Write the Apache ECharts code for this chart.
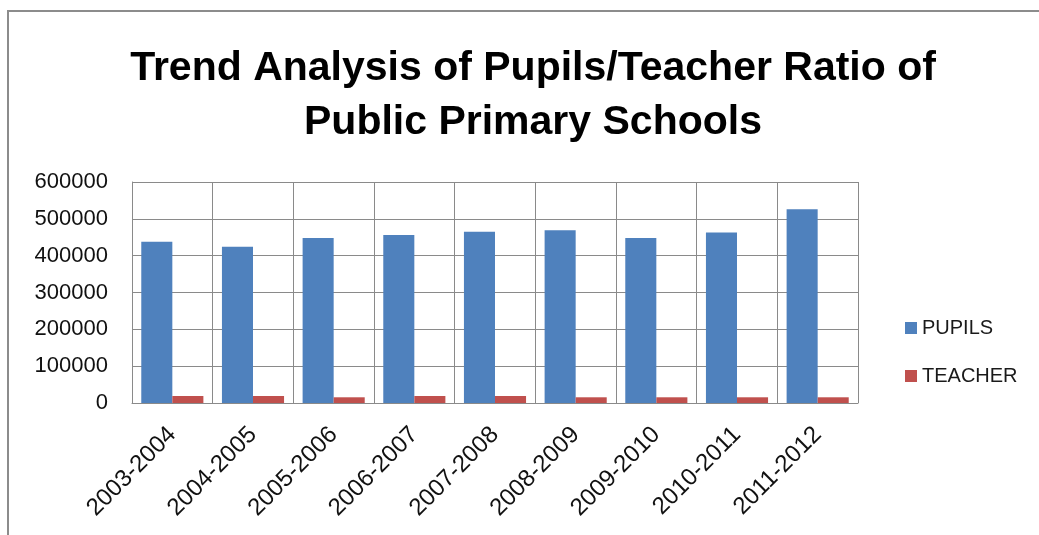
<!DOCTYPE html>
<html>
<head>
<meta charset="utf-8">
<script src="https://cdn.jsdelivr.net/npm/echarts@6/dist/echarts.min.js"></script>
<style>
html,body{margin:0;padding:0;background:#fff;}
#chart{width:1039px;height:535px;}
</style>
</head>
<body>
<div id="chart"></div>
<script>
const titleText = 'Trend Analysis of Pupils/Teacher Ratio of\nPublic Primary Schools';
const categories = ['2003-2004','2004-2005','2005-2006','2006-2007','2007-2008','2008-2009','2009-2010','2010-2011','2011-2012'];
const pupils = [438000, 424000, 448000, 456000, 465000, 469000, 448000, 463000, 526000];
const teacher = [19000, 19000, 15500, 19000, 19000, 15500, 15500, 15500, 15500];
const seriesNames = ['PUPILS', 'TEACHER'];

const chart = echarts.init(document.getElementById('chart'));
const gridColor = '#8a8a8a';
const font = '"Liberation Sans", sans-serif';
chart.setOption({
  animation: false,
  backgroundColor: '#fff',
  graphic: [{
    type: 'polyline',
    shape: { points: [[8, 540], [8, 11], [1045, 11]] },
    style: { stroke: '#8c8c8c', lineWidth: 2, fill: null }
  }],
  title: {
    text: titleText,
    left: 528,
    textAlign: 'center',
    top: 37,
    textStyle: { fontFamily: font, fontWeight: 'bold', fontSize: 41, lineHeight: 54, color: '#000' }
  },
  legend: {
    orient: 'vertical',
    left: 900,
    top: 313,
    itemWidth: 12,
    itemHeight: 12,
    itemGap: 28,
    icon: 'rect',
    data: seriesNames,
    textStyle: { fontFamily: font, fontSize: 20, color: '#1a1a1a' }
  },
  grid: { left: 132, right: 181, top: 182, bottom: 132, containLabel: false },
  xAxis: {
    type: 'category',
    data: categories,
    axisLine: { lineStyle: { color: gridColor } },
    axisTick: { show: false },
    splitLine: { show: true, lineStyle: { color: gridColor, width: 1 } },
    axisLabel: { rotate: 45, interval: 0, margin: 28, fontFamily: font, fontSize: 24, color: '#111' }
  },
  yAxis: {
    type: 'value',
    min: 0, max: 600000, interval: 100000,
    axisLine: { show: true, lineStyle: { color: gridColor } },
    axisTick: { show: false },
    splitLine: { lineStyle: { color: gridColor, width: 1 } },
    axisLabel: { margin: 24, fontFamily: font, fontSize: 22, color: '#111', formatter: v => String(v) }
  },
  series: [
    { name: seriesNames[0], type: 'bar', data: pupils, barGap: '0%', barCategoryGap: '23%',
      itemStyle: { color: '#4F81BD' } },
    { name: seriesNames[1], type: 'bar', data: teacher, barGap: '0%', barCategoryGap: '23%',
      itemStyle: { color: '#C0504D' } }
  ]
});
</script>
</body>
</html>
